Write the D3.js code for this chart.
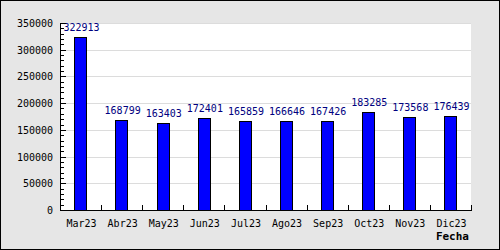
<!DOCTYPE html>
<html>
<head>
<meta charset="utf-8">
<script src="https://cdn.jsdelivr.net/npm/d3@7/dist/d3.min.js"></script>
<style>
  body { margin: 0; }
  svg text { font-family: "DejaVu Sans Mono", monospace; }
</style>
</head>
<body>
<div id="chart"></div>
<script>
// data
var months = ["Mar23", "Abr23", "May23", "Jun23", "Jul23", "Ago23", "Sep23", "Oct23", "Nov23", "Dic23"];
var totals = [322913, 168799, 163403, 172401, 165859, 166646, 167426, 183285, 173568, 176439];
var yTicks = [0, 50000, 100000, 150000, 200000, 250000, 300000, 350000];

var W = 500, H = 250;
var plotL = 60, plotR = 471, plotT = 23, plotB = 210;

var svg = d3.select("#chart").append("svg")
    .attr("width", W).attr("height", H)
    .style("display", "block");

// background + outer frame
svg.append("rect")
    .attr("x", 0.5).attr("y", 0.5)
    .attr("width", W - 1).attr("height", H - 1)
    .attr("fill", "#e6e6e6").attr("stroke", "#000");

svg.append("rect")
    .attr("x", plotL).attr("y", plotT)
    .attr("width", plotR - plotL).attr("height", plotB - plotT)
    .attr("fill", "#fff");

var x = d3.scaleBand().domain(months).range([plotL, plotR]).padding(0);
var y = d3.scaleLinear().domain([0, 350000]).range([plotB, plotT]);

// grid lines
svg.append("g").selectAll("line")
    .data(yTicks.filter(function(t) { return t > 0; }))
    .join("line")
    .attr("x1", plotL).attr("x2", plotR)
    .attr("y1", function(d) { return Math.round(y(d)) + 0.5; })
    .attr("y2", function(d) { return Math.round(y(d)) + 0.5; })
    .attr("stroke", "#dcdcdc");

// bars
var bw = x.bandwidth() * 0.3;
svg.append("g").selectAll("rect")
    .data(totals)
    .join("rect")
    .attr("x", function(d, i) { return Math.round(x(months[i]) + x.bandwidth() / 2 - bw / 2) + 0.5; })
    .attr("y", function(d) { return Math.round(y(d)) + 0.5; })
    .attr("width", Math.round(bw))
    .attr("height", function(d) { return Math.round(plotB - y(d)); })
    .attr("fill", "#0000ff")
    .attr("stroke", "#000")
    .attr("shape-rendering", "crispEdges");

// value labels
svg.append("g").selectAll("text")
    .data(totals)
    .join("text")
    .attr("x", function(d, i) { return x(months[i]) + x.bandwidth() / 2 + 1; })
    .attr("y", function(d) { return y(d) - 6; })
    .attr("text-anchor", "middle")
    .attr("font-size", 10)
    .attr("fill", "#000080")
    .text(function(d) { return d; });

// y axis (ticks pointing inward)
var minor = d3.range(0, 350001, 10000);
var yAxis = svg.append("g");
yAxis.selectAll("line.minor")
    .data(minor)
    .join("line")
    .attr("class", "minor")
    .attr("x1", plotL).attr("x2", function(d) { return d % 50000 === 0 ? plotL + 6 : plotL + 4; })
    .attr("y1", function(d) { return Math.round(y(d)) + 0.5; })
    .attr("y2", function(d) { return Math.round(y(d)) + 0.5; })
    .attr("stroke", "#000");
yAxis.append("line")
    .attr("x1", plotL + 0.5).attr("x2", plotL + 0.5)
    .attr("y1", plotT).attr("y2", plotB + 1)
    .attr("stroke", "#000");
yAxis.selectAll("text")
    .data(yTicks)
    .join("text")
    .attr("x", plotL - 7)
    .attr("y", function(d) { return y(d) + 4; })
    .attr("text-anchor", "end")
    .attr("font-size", 10)
    .attr("fill", "#000")
    .text(function(d) { return d; });

// x axis
var xAxis = svg.append("g");
xAxis.append("line")
    .attr("x1", plotL).attr("x2", plotR + 1)
    .attr("y1", plotB + 0.5).attr("y2", plotB + 0.5)
    .attr("stroke", "#000");
xAxis.selectAll("line.tick")
    .data(months.slice(1).concat(["end"]))
    .join("line")
    .attr("class", "tick")
    .attr("x1", function(d, i) { return Math.round(i < months.length - 1 ? x(d) : plotR) + 0.5; })
    .attr("x2", function(d, i) { return Math.round(i < months.length - 1 ? x(d) : plotR) + 0.5; })
    .attr("y1", plotB).attr("y2", plotB - 5)
    .attr("stroke", "#000");
xAxis.selectAll("text")
    .data(months)
    .join("text")
    .attr("x", function(d) { return x(d) + x.bandwidth() / 2 + 1; })
    .attr("y", 227)
    .attr("text-anchor", "middle")
    .attr("font-size", 10)
    .attr("fill", "#000")
    .text(function(d) { return d; });

svg.append("text")
    .attr("x", 469).attr("y", 240)
    .attr("text-anchor", "end")
    .attr("font-family", "DejaVu Sans, sans-serif")
    .attr("font-weight", "bold")
    .attr("font-size", 11)
    .text("Fecha");
</script>
</body>
</html>
